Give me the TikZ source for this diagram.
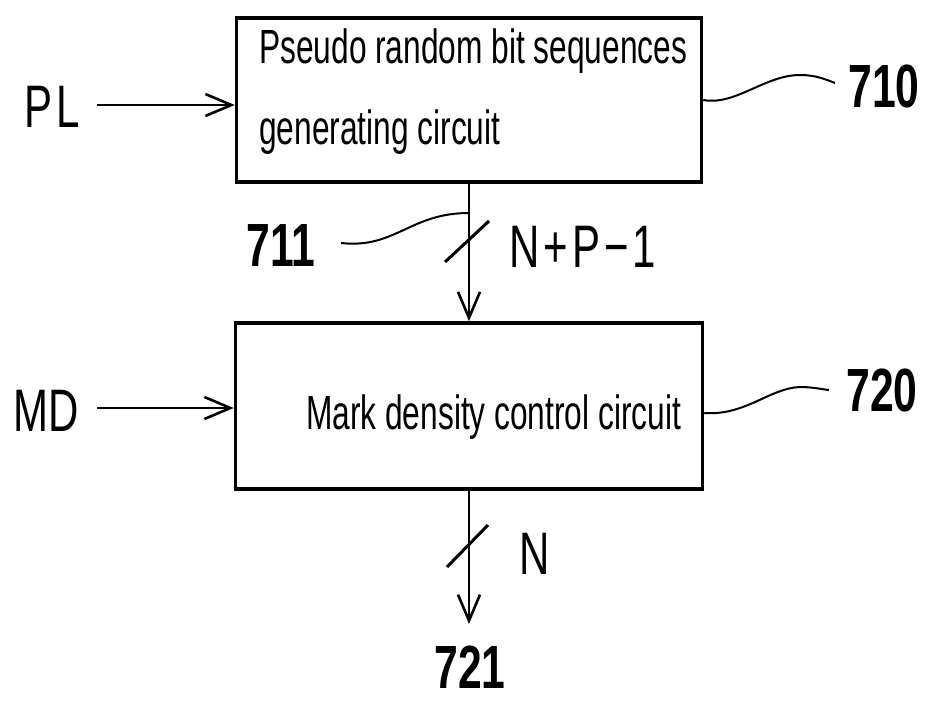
\documentclass[tikz,border=0pt]{standalone}
\usepackage{fontspec}
\setmainfont{Liberation Sans}
\newfontfamily\condf[FakeStretch=0.7]{Liberation Sans}
\newfontfamily\boxf[FakeStretch=0.66]{Liberation Sans}
\usetikzlibrary{arrows.meta,calc}
\begin{document}
\begin{tikzpicture}[x=1pt,y=-1pt,
  box/.style={draw, line width=3.5pt, minimum width=465pt, minimum height=164pt, inner sep=0pt},
  lbl/.style={font=\condf\fontsize{60}{60}\selectfont, inner sep=0pt},
  num/.style={font=\condf\bfseries\fontsize{61}{61}\selectfont, inner sep=0pt},
  boxtext/.style={font=\boxf\fontsize{48}{54}\selectfont, inner sep=0pt, anchor=base west},
  conn/.style={line width=2.6pt, -{Straight Barb[length=26pt,width=22pt]}},
  lead/.style={line width=2pt},
  slashst/.style={line width=3pt}]
\useasboundingbox (0,0) rectangle (929,704);
% boxes
\node[box] (b1) at (469,100) {};
\node[box, minimum width=467pt, minimum height=166pt] (b2) at (469,406) {};
% box texts
\node[boxtext] (t1) at (259,63) {Pseudo random bit sequences};
\node[boxtext] (t2) at (259,144) {generating circuit};
\node[boxtext] (t3) at (306,429) {Mark density control circuit};
% labels
\node[lbl] (pl) at (52,107) {P\kern4pt L};
\node[lbl] (md) at (46,411) {MD};
\node[num] (n710) at (884,87) {710};
\node[num] (n720) at (882,390) {720};
\node[num] (n711) at (281,246) {711};
\node[num] (n721) at (470,667) {721};
\node[lbl, anchor=west] (npl) at (509,247) {N\kern4pt+\kern4pt P\kern4pt−\kern4pt 1};
\node[lbl] (nl) at (535,554) {N};
% connectors
\coordinate (plS) at (97,105);
\coordinate (mdS) at (97,408);
\coordinate (outE) at (469,624);
\draw[conn] (plS) -- (plS -| b1.west);
\draw[conn] (mdS) -- (mdS -| b2.west);
\draw[conn] (b1.south) -- (b2.north);
\draw[conn] (b2.south) -- (outE);
% bus slashes
\draw[slashst] (445,262) -- (489,221);
\draw[slashst] (447,567) -- (488,525);
% leaders
\draw[lead] (b1.east) .. controls (735,106) and (765,75) .. (800,75) .. controls (815,75) and (825,79) .. (835,83);
\draw[lead] ($(b2.east)+(0,7)$) .. controls (745,416) and (770,388) .. (800,387) .. controls (812,387) and (820,389) .. (829,390);
\draw[lead] (341,243) .. controls (395,249) and (410,213) .. (469,213);
\end{tikzpicture}
\end{document}
